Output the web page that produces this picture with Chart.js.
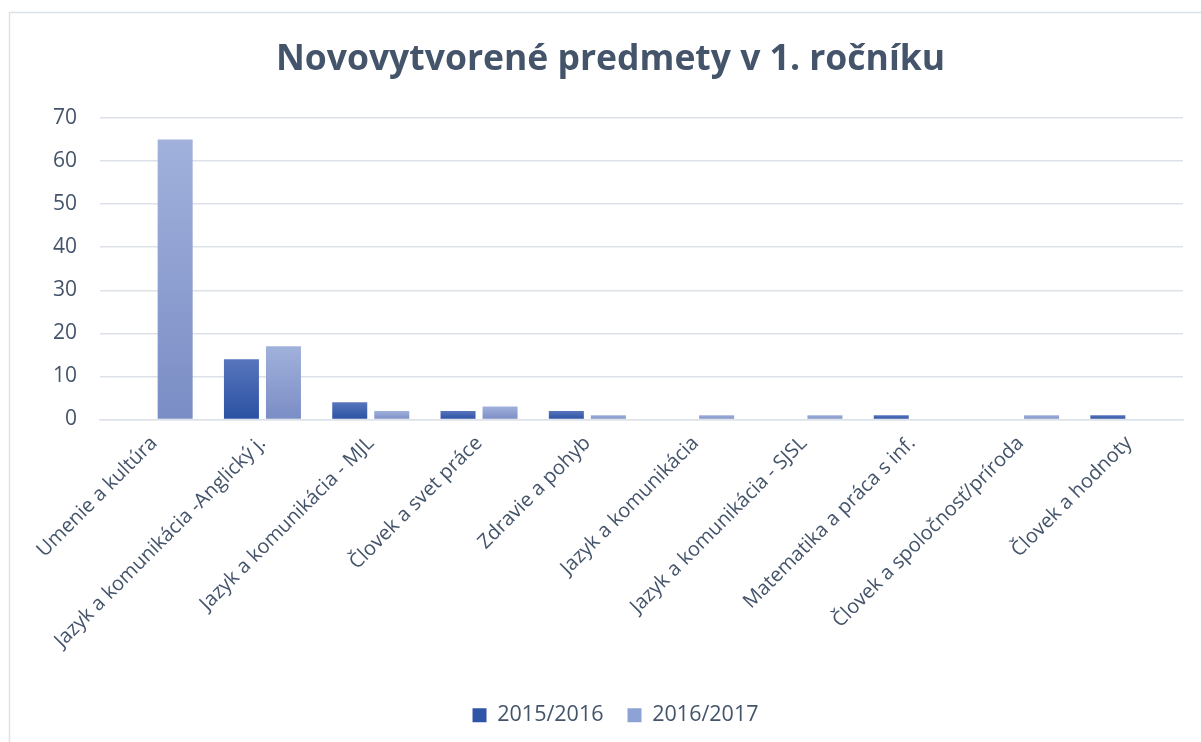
<!DOCTYPE html>
<html>
<head>
<meta charset="utf-8">
<script src="https://cdn.jsdelivr.net/npm/chart.js@4/dist/chart.umd.min.js"></script>
<style>
  html, body { margin: 0; padding: 0; background: #ffffff; }
  #wrap { position: relative; width: 1201px; height: 742px; }
</style>
</head>
<body>
<div id="wrap"><canvas id="c" width="1201" height="742"></canvas></div>
<script>
const titleText = 'Novovytvorené predmety v 1. ročníku';
const categories = [
  'Umenie a kultúra',
  'Jazyk a komunikácia -Anglický j.',
  'Jazyk a komunikácia - MJL',
  'Človek a svet práce',
  'Zdravie a pohyb',
  'Jazyk a komunikácia',
  'Jazyk a komunikácia - SJSL',
  'Matematika a práca s inf.',
  'Človek a spoločnosť/príroda',
  'Človek a hodnoty'
];
const seriesNames = ['2015/2016', '2016/2017'];
const values2015 = [0, 14, 4, 2, 2, 0, 0, 1, 0, 1];
const values2016 = [65, 17, 2, 3, 1, 1, 1, 0, 1, 0];
const yTicks = [0, 10, 20, 30, 40, 50, 60, 70];

const textColor = '#44546A';
const gridColor = '#DDE1E8';
const fontFamily = '"Open Sans", "Liberation Sans", sans-serif';

function barGradient(topColor, bottomColor) {
  return function (context) {
    const chart = context.chart;
    const y = chart.scales && chart.scales.y;
    if (!y || context.parsed === undefined || context.parsed === null) return bottomColor;
    const v = context.parsed.y;
    const top = y.getPixelForValue(v);
    const bottom = y.getPixelForValue(0);
    if (!isFinite(top) || !isFinite(bottom) || Math.abs(bottom - top) < 0.5) return bottomColor;
    const g = chart.ctx.createLinearGradient(0, top, 0, bottom);
    g.addColorStop(0, topColor);
    g.addColorStop(1, bottomColor);
    return g;
  };
}

const borderPlugin = {
  id: 'outerBorder',
  beforeDraw(chart) {
    const ctx = chart.ctx;
    ctx.save();
    ctx.fillStyle = '#ffffff';
    ctx.fillRect(0, 0, chart.width, chart.height);
    ctx.strokeStyle = '#DCE1E8';
    ctx.lineWidth = 1.5;
    ctx.strokeRect(9.5, 12.5, 1400, 900);
    ctx.restore();
  }
};

// shift the title and legend boxes horizontally (they are centred on the full canvas in the original)
const shiftPlugin = {
  id: 'shiftBoxes',
  afterLayout(chart) {
    if (chart.titleBlock) { chart.titleBlock.left += 19; chart.titleBlock.right += 19; }
    if (chart.legend) { chart.legend.left += 24; chart.legend.right += 24; }
  }
};

new Chart(document.getElementById('c'), {
  type: 'bar',
  data: {
    labels: categories,
    datasets: [
      {
        label: seriesNames[0],
        data: values2015,
        backgroundColor: barGradient('#5875BD', '#2A51A2'),
        borderWidth: 0
      },
      {
        label: seriesNames[1],
        data: values2016,
        backgroundColor: barGradient('#A1B1DC', '#7A8DC5'),
        borderWidth: 0
      }
    ]
  },
  options: {
    responsive: false,
    animation: false,
    devicePixelRatio: 1,
    categoryPercentage: 0.776,
    barPercentage: 0.833,
    layout: { padding: { left: 0, right: 18, top: 0, bottom: 6 } },
    plugins: {
      title: {
        display: true,
        text: titleText,
        color: textColor,
        font: { family: fontFamily, size: 35.5, weight: 'bold' },
        padding: { top: 39, bottom: 36.4 }
      },
      legend: {
        display: true,
        position: 'bottom',
        labels: {
          color: textColor,
          font: { family: fontFamily, size: 21.5 },
          boxWidth: 14,
          boxHeight: 14,
          padding: 24,
          generateLabels(chart) {
            const cols = ['#2F56A6', '#8FA2D6'];
            return chart.data.datasets.map((ds, i) => ({
              text: ds.label,
              fillStyle: cols[i],
              strokeStyle: cols[i],
              lineWidth: 0,
              hidden: false,
              datasetIndex: i,
              fontColor: textColor
            }));
          }
        }
      },
      tooltip: { enabled: false }
    },
    scales: {
      x: {
        grid: { display: false, drawTicks: false },
        border: { display: true, color: gridColor, width: 1.5 },
        ticks: {
          color: textColor,
          font: { family: fontFamily, size: 20 },
          minRotation: 45,
          maxRotation: 45,
          padding: 12,
          autoSkip: false
        },
        afterFit(scale) { scale.height = 261; }
      },
      y: {
        min: 0,
        max: 70,
        afterBuildTicks(scale) { scale.ticks = yTicks.map(v => ({ value: v })); },
        grid: { color: gridColor, lineWidth: 1.5, drawTicks: false },
        border: { display: false },
        ticks: {
          color: textColor,
          font: { family: fontFamily, size: 21 },
          padding: 23
        },
        afterFit(scale) { scale.width = 100; }
      }
    }
  },
  plugins: [borderPlugin, shiftPlugin]
});
</script>
</body>
</html>
